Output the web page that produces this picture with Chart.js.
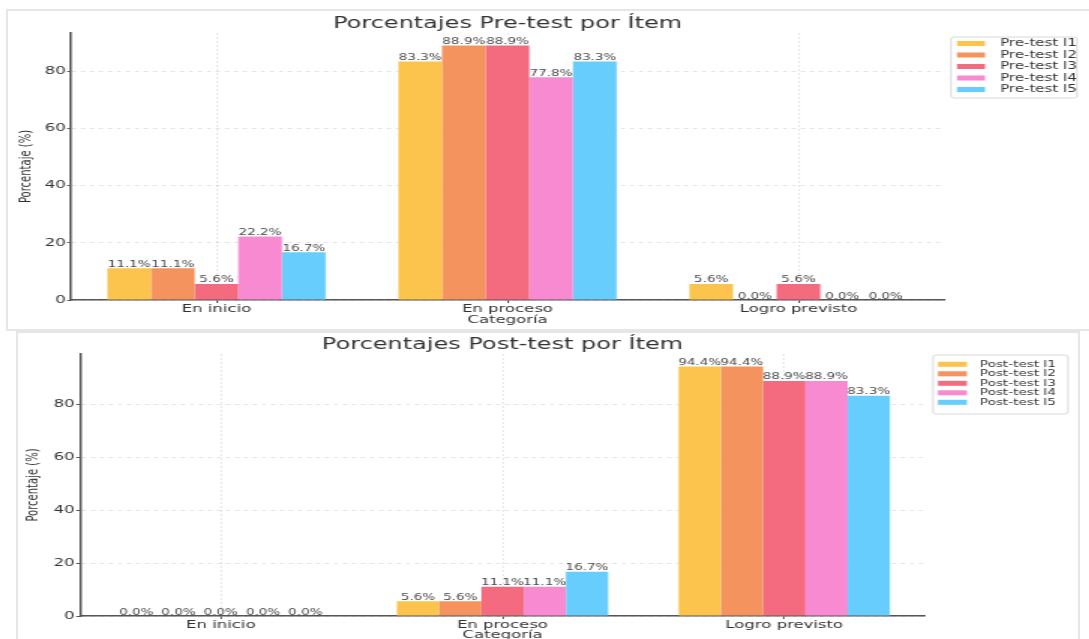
<!DOCTYPE html>
<html>
<head>
<meta charset="utf-8">
<script src="https://cdn.jsdelivr.net/npm/chart.js@4.4.1/dist/chart.umd.min.js"></script>
<style>
html, body { margin: 0; padding: 0; background: #fff; width: 1089px; height: 639px; overflow: hidden; position: relative; }
.panel { position: absolute; border: 2px solid #e6e6e6; overflow: hidden; background: #fff; }
#p1 { left: 6px; top: 9px; width: 1090px; height: 318px; }
#p2 { left: 16px; top: 331px; width: 1060px; height: 320px; }
/* the reference picture is stretched sideways, so the canvases are too */
.stretch { transform: scaleX(1.5); transform-origin: 0 0; }
</style>
</head>
<body>
<div class="panel" id="p1"><div class="stretch"><canvas id="preChart" width="721" height="318"></canvas></div></div>
<div class="panel" id="p2"><div class="stretch"><canvas id="postChart" width="707" height="309"></canvas></div></div>
<script>
const categories = ['En inicio', 'En proceso', 'Logro previsto'];
const itemColors = ['#fdc44d', '#f5935f', '#f46b80', '#f78ad1', '#66cdfc'];
const yTicks = [0, 20, 40, 60, 80];

const preLabels = ['Pre-test I1', 'Pre-test I2', 'Pre-test I3', 'Pre-test I4', 'Pre-test I5'];
const preI1 = [11.1, 83.3, 5.6];
const preI2 = [11.1, 88.9, 0.0];
const preI3 = [5.6, 88.9, 5.6];
const preI4 = [22.2, 77.8, 0.0];
const preI5 = [16.7, 83.3, 0.0];
const preYMax = 93.3;

const postLabels = ['Post-test I1', 'Post-test I2', 'Post-test I3', 'Post-test I4', 'Post-test I5'];
const postI1 = [0.0, 5.6, 94.4];
const postI2 = [0.0, 5.6, 94.4];
const postI3 = [0.0, 11.1, 88.9];
const postI4 = [0.0, 11.1, 88.9];
const postI5 = [0.0, 16.7, 83.3];
const postYMax = 99.1;

const FONT = 'DejaVu Sans';

// value text over each bar
const barValueLabels = {
    id: 'barValueLabels',
    afterDatasetsDraw(chart) {
        const ctx = chart.ctx;
        ctx.save();
        ctx.font = '9px "' + FONT + '"';
        ctx.fillStyle = '#4a4a4a';
        ctx.textAlign = 'center';
        ctx.textBaseline = 'alphabetic';
        chart.data.datasets.forEach((ds, i) => {
            chart.getDatasetMeta(i).data.forEach((bar, j) => {
                ctx.fillText(ds.data[j].toFixed(1) + '%', bar.x, bar.y - 1.5);
            });
        });
        ctx.restore();
    }
};

// matplotlib-like framed legend beside the plot
const boxLegend = {
    id: 'boxLegend',
    afterDraw(chart, args, o) {
        const ctx = chart.ctx;
        const a = chart.chartArea;
        const x = a.right + o.dx, y = a.top + o.dy;
        ctx.save();
        ctx.fillStyle = 'rgba(255,255,255,0.9)';
        ctx.strokeStyle = '#d8d8d8';
        ctx.lineWidth = 1;
        ctx.beginPath();
        ctx.roundRect(x, y, o.w, o.h, 2);
        ctx.fill();
        ctx.stroke();
        ctx.font = o.size + 'px "' + FONT + '"';
        ctx.textBaseline = 'middle';
        chart.data.datasets.forEach((ds, i) => {
            const ry = y + o.first + i * o.gap;
            ctx.fillStyle = ds.backgroundColor;
            ctx.fillRect(x + o.swX, ry - o.swH / 2, o.swW, o.swH);
            ctx.fillStyle = '#333';
            ctx.fillText(ds.label, x + o.textX, ry);
        });
        ctx.restore();
    }
};

function makeChart(id, title, labels, series, yMax, lay) {
    return new Chart(document.getElementById(id), {
        type: 'bar',
        data: {
            labels: categories,
            datasets: series.map((d, i) => ({
                label: labels[i],
                data: d,
                backgroundColor: itemColors[i],
                borderWidth: 0,
                categoryPercentage: 0.75,
                barPercentage: 1.0,
            })),
        },
        options: {
            responsive: false,
            animation: false,
            devicePixelRatio: 1,
            layout: { padding: { left: 0, right: lay.padRight, top: 0, bottom: lay.padBottom } },
            plugins: {
                legend: { display: false },
                tooltip: { enabled: false },
                title: {
                    display: true,
                    text: title,
                    fullSize: false,
                    color: '#333',
                    font: { family: FONT, size: 16, weight: 'normal' },
                    padding: lay.titlePad,
                },
                boxLegend: lay.legend,
            },
            scales: {
                x: {
                    offset: true,
                    grid: { offset: false, color: 'rgba(0,0,0,0.1)', tickColor: '#555', tickLength: 3 },
                    border: { color: '#555', width: 1.5, dash: [2, 2] },
                    ticks: { color: '#333', font: { family: FONT, size: 11 }, padding: 0, maxRotation: 0 },
                    title: { display: true, text: 'Categoría', color: '#333', font: { family: FONT, size: 11 }, padding: 0 },
                    afterFit: s => { s.height = lay.xHeight; },
                },
                y: {
                    min: 0,
                    max: yMax,
                    afterBuildTicks: s => { s.ticks = yTicks.map(v => ({ value: v })); },
                    grid: { color: 'rgba(0,0,0,0.1)', tickColor: '#555', tickLength: 2.5 },
                    border: { color: '#555', width: 1.5, dash: [3, 3] },
                    ticks: { color: '#333', font: { family: FONT, size: 11 }, padding: 1 },
                    title: { display: true, text: 'Porcentaje (%)', color: '#333', font: { family: FONT, size: 10 }, padding: { top: lay.yTitlePad, bottom: 0 } },
                    afterFit: s => { s.width = lay.yWidth; },
                },
            },
        },
        plugins: [barValueLabels, boxLegend],
    });
}

makeChart('preChart', 'Porcentajes Pre-test por Ítem', preLabels,
    [preI1, preI2, preI3, preI4, preI5], preYMax, {
        padRight: 97, padBottom: 2.4, xHeight: 26.6, yWidth: 42, yTitlePad: 6.7,
        titlePad: { top: 2.8, bottom: 0 },
        legend: { dx: 4.7, dy: 4, w: 84, h: 61, first: 6.5, gap: 11.5, swX: 4, swW: 18.7, swH: 5, textX: 32.7, size: 10 },
    });

makeChart('postChart', 'Porcentajes Post-test por Ítem', postLabels,
    [postI1, postI2, postI3, postI4, postI5], postYMax, {
        padRight: 102.3, padBottom: 0.4, xHeight: 25.6, yWidth: 41.3, yTitlePad: 4,
        titlePad: { top: 1.8, bottom: 0 },
        legend: { dx: 5.3, dy: 1, w: 90, h: 59, first: 9.3, gap: 9.5, swX: 3.3, swW: 19.3, swH: 5, textX: 31.3, size: 9 },
    });
</script>
</body>
</html>
